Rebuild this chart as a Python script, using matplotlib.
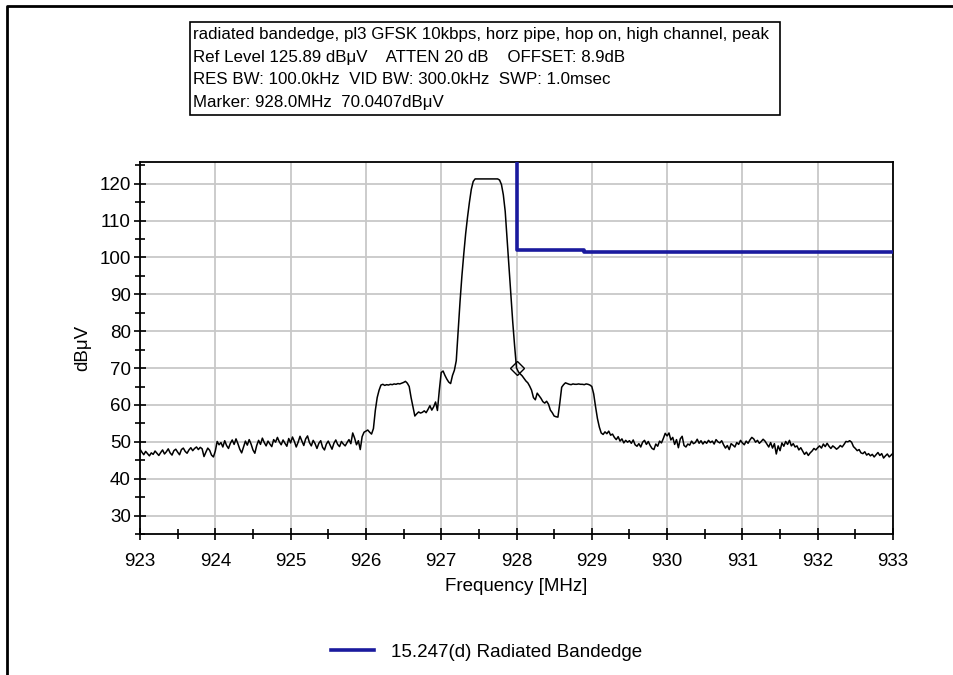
import numpy as np
import matplotlib.pyplot as plt
from matplotlib.lines import Line2D
from matplotlib.patches import Rectangle

plt.rcParams['font.family'] = ['Liberation Sans', 'DejaVu Sans']

# trace levels, dBuV, 401 sweep points 923..933 MHz (10 per row = 0.25 MHz)
level = [
    48.0, 47.2, 46.5, 47.4, 46.8, 46.2, 47.0, 46.6, 47.5, 46.9,
    46.3, 47.1, 47.8, 46.7, 47.3, 48.1, 47.0, 46.4, 47.6, 48.0,
    47.2, 46.5, 47.9, 48.3, 47.4, 46.9, 47.8, 48.4, 47.6, 48.2,
    48.6, 47.9, 48.5, 48.1, 46.0, 47.2, 48.3, 47.7, 46.4, 45.9,
    47.5, 50.1, 49.2, 49.8, 48.6, 50.3, 49.0, 48.2, 49.6, 50.5,
    49.3, 50.8, 49.5, 48.0, 47.0, 48.6, 50.2, 49.1, 50.6, 49.4,
    47.8, 46.9, 49.0, 50.4, 49.3, 51.0, 49.8, 48.9, 50.2, 49.4,
    48.7, 50.6, 49.9, 51.2, 50.0, 49.2, 50.5, 49.6, 48.8, 50.9,
    49.7, 51.3, 50.1, 48.6, 49.9, 51.5, 50.2, 49.0, 50.8, 51.6,
    49.8, 48.9, 50.4, 49.5, 48.2, 49.6, 50.3, 48.5, 47.8, 49.4,
    50.2, 49.1, 48.0, 49.6, 50.5, 49.3, 48.7, 50.1, 49.4, 48.9,
    49.8, 50.6, 49.5, 52.4, 51.0, 49.2, 50.3, 47.9, 51.4, 52.6,
    52.9, 53.2, 52.6, 52.1, 53.6, 58.5, 62.0, 64.0, 65.4, 65.6,
    65.3, 65.5, 65.4, 65.6, 65.5, 65.7, 65.6, 65.8, 65.7, 65.9,
    66.1, 66.4, 65.9, 65.0, 62.0, 59.5, 57.0, 57.6, 58.1, 57.8,
    58.0, 58.4, 57.9, 58.8, 59.8, 58.6, 59.5, 60.8, 58.5, 64.0,
    68.8, 69.2, 68.0, 67.0, 66.2, 65.8, 68.0, 69.4, 72.0, 80.0,
    88.0, 95.0, 101.0, 106.5, 111.0, 115.0, 118.5, 120.6, 121.3, 121.3,
    121.3, 121.3, 121.3, 121.3, 121.3, 121.3, 121.3, 121.3, 121.3, 121.3,
    121.3, 121.0, 119.8, 117.0, 112.5, 105.0, 97.5, 90.0, 82.5, 76.0,
    70.04, 69.0, 68.4, 67.9, 67.2, 66.5, 66.0, 65.1, 64.0, 62.0,
    61.4, 63.2, 62.5, 61.8, 60.9, 60.5, 61.0, 60.2, 58.6, 57.9,
    57.0, 56.8, 56.7, 60.5, 64.8, 65.5, 66.0, 65.8, 65.6, 65.5,
    65.7, 65.6, 65.6, 65.7, 65.6, 65.6, 65.5, 65.7, 65.6, 65.4,
    65.0, 63.0, 59.5, 56.3, 54.0, 52.4, 52.0, 52.7, 52.2, 52.9,
    51.8, 52.1, 51.2, 50.6, 51.4, 50.2, 50.8, 49.7, 50.4, 49.9,
    50.3, 49.6, 50.5, 49.2, 48.8, 49.5, 48.6, 49.9, 50.4, 49.3,
    50.1, 49.0, 48.2, 47.9, 49.4, 48.8, 50.2, 49.7, 50.9, 52.3,
    51.6, 52.4, 50.5, 51.2, 49.3, 50.6, 48.4, 50.8, 51.5, 49.0,
    48.6, 49.4, 49.1, 50.2, 49.5, 49.8, 50.7, 49.6, 50.3, 49.4,
    50.1, 49.6, 50.4, 49.8, 50.2, 49.4, 50.6, 50.0, 49.7, 50.3,
    49.2, 48.3, 49.0, 47.9, 49.5, 49.1, 48.6, 49.8, 49.3, 50.4,
    49.7, 49.2, 50.2, 49.6, 50.5, 51.2, 50.8, 49.9, 50.4, 49.6,
    50.1, 50.7, 50.2, 49.4, 48.6, 49.8, 48.3, 49.5, 46.7, 48.9,
    47.6, 49.7, 48.8, 50.1, 49.3, 50.4, 48.9, 49.5, 48.6, 48.9,
    47.8, 48.4, 47.5, 46.6, 47.2, 46.3, 47.0, 47.5, 48.2, 47.8,
    48.4, 48.9, 48.3, 49.4, 48.7, 49.6, 48.8, 48.2, 48.9, 48.5,
    48.0, 48.4, 49.0, 48.6, 49.3, 50.1, 50.0, 50.3, 49.9, 48.7,
    48.2, 47.6, 47.9, 47.0, 46.8, 47.3, 46.4, 46.8, 46.2, 46.6,
    45.9, 46.5, 47.1, 46.3, 46.8, 45.6, 46.2, 46.7, 45.9, 46.4,
    46.9,
]
f_start, f_stop = 923.0, 933.0
freq = np.linspace(f_start, f_stop, len(level))

# 15.247(d) limit
limit_freq = [928.0, 928.0, 928.9, 928.9, 933.0]
limit_level = [135.0, 102.0, 102.0, 101.6, 101.6]

marker_freq = 928.0
marker_level = 70.0407

ref_level = 125.89
info = ["radiated bandedge, pl3 GFSK 10kbps, horz pipe, hop on, high channel, peak",
        "Ref Level 125.89 dB\u03bcV    ATTEN 20 dB    OFFSET: 8.9dB",
        "RES BW: 100.0kHz  VID BW: 300.0kHz  SWP: 1.0msec",
        "Marker: 928.0MHz  70.0407dB\u03bcV"]

W, H = 954, 675
fig = plt.figure(figsize=(W/100, H/100), dpi=100)
ax = fig.add_axes([140/W, 1-534/H, 753/W, 372/H])

ax.plot(freq, level, color='black', lw=1.1, zorder=3)
ax.plot(limit_freq, limit_level, color='#1a1a9e', lw=2.6, zorder=4,
        label='15.247(d) Radiated Bandedge')
ax.plot(marker_freq, marker_level, marker='D', ms=7, mfc='none', mec='black',
        mew=1.0, zorder=5)

ax.set_xlim(f_start, f_stop)
ax.set_ylim(ref_level-100, ref_level)
ax.set_xticks(np.arange(923, 934, 1))
ax.set_xticks(np.arange(923.5, 933, 1), minor=True)
ax.set_yticks(np.arange(30, 121, 10))
ax.set_yticks(np.arange(25, 126, 5), minor=True)
ax.grid(True, which='major', color='#c8c8c8', lw=1.3, zorder=0)
ax.tick_params(which='both', direction='inout', labelsize=13.5, width=1.2)
ax.tick_params(which='major', length=9)
ax.tick_params(which='minor', length=7)
ax.tick_params(axis='x', pad=9)
ax.tick_params(axis='y', pad=2)
for s in ax.spines.values():
    s.set_linewidth(1.3)

ax.set_xlabel('Frequency [MHz]', fontsize=13.5, labelpad=6)
ax.set_ylabel('dB\u03bcV', fontsize=13.5, labelpad=6)

ax.legend(loc='center left', bbox_to_anchor=(322/W, 1-652/H),
          bbox_transform=fig.transFigure, frameon=False, fontsize=13.5,
          handlelength=2.3, handletextpad=0.9, borderpad=0)

# info box
fig.add_artist(Rectangle((190/W, 1-115/H), 590/W, 93/H, transform=fig.transFigure,
                         fill=False, ec='black', lw=1.2))
for i, line in enumerate(info):
    fig.text(193/W, 1-(35+22.5*i)/H, line, fontsize=12.2, va='center', ha='left')

# outer frame (left and top edges)
fig.add_artist(Line2D([7.5/W, 7.5/W, 1], [0, 1-5.5/H, 1-5.5/H],
                      transform=fig.transFigure, color='black', lw=2))

fig.savefig('out.png', dpi=100)
